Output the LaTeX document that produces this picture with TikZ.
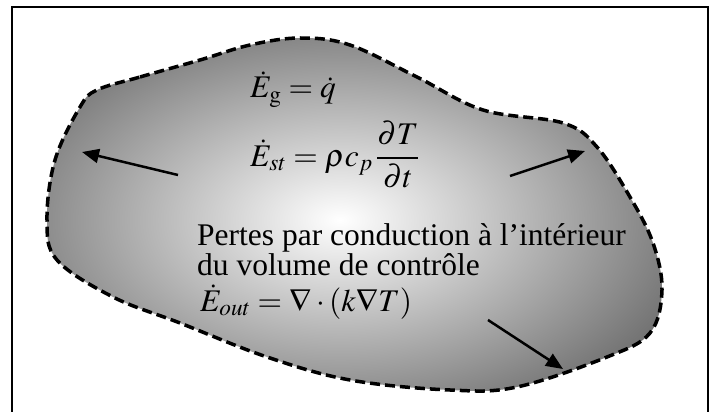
\documentclass[tikz,border=0pt]{standalone}
\usepackage{amsmath}
\usepackage{mathptmx}
\usepackage{fontspec}
\setmainfont{Liberation Serif}
\usetikzlibrary{arrows.meta}

\begin{document}
\begin{tikzpicture}[x=1pt, y=-1pt,
  frameline/.style={draw=black, line width=2pt},
  cvborder/.style={draw=black, line width=3.5pt, dash pattern=on 10pt off 5pt, line cap=butt},
  fluxarrow/.style={draw=black, line width=2.5pt, -{Triangle[length=17pt, width=14pt]}},
  eqtext/.style={anchor=base west, inner sep=0pt, font=\fontsize{31.5}{27}\selectfont}
]
  \useasboundingbox (0,0) rectangle (716,412);
  \path[frameline] (12,412) -- (12,7) -- (708,7) -- (708,412);

  % volume de controle
  \def\cvpath{plot[smooth cycle, tension=0.6] coordinates {(97,90) (140,77) (200,60) (250,45) (300,38) (350,45) (417,77) (483,110) (563,123) (597,147) (630,197) (653,243) (662,290) (650,333) (607,357) (517,387) (450,390) (350,380) (267,357) (180,323) (113,297) (57,260) (47,220) (55,160) (80,107)}}
  \begin{scope}
    \clip \cvpath;
    \shade[inner color=white, outer color=black!82] (340,220) ellipse (540 and 320);
  \end{scope}
  \path[cvborder] \cvpath;

  \node[eqtext] (eg) at (250,98) {$\dot{E}_{\mathrm{g}} = \dot{q}$};
  \node[eqtext] (est) at (250,166) {$\dot{E}_{st} = \rho c_p \,\dfrac{\partial T}{\partial t}$};
  \node[eqtext, align=left] (pertes) at (197,275) {Pertes par conduction à l'intérieur\\du volume de contrôle};
  \node[eqtext] (eout) at (200,311) {$\dot{E}_{out} = \nabla\cdot(k\nabla T)$};

  % flux sortants
  \coordinate (leftA) at (178,175);
  \coordinate (leftB) at (82,152);
  \coordinate (rightA) at (510,176);
  \coordinate (rightB) at (585,151);
  \coordinate (lowA) at (488,320);
  \coordinate (lowB) at (563,369);
  \draw[fluxarrow] (leftA) -- (leftB);
  \draw[fluxarrow] (rightA) -- (rightB);
  \draw[fluxarrow] (lowA) -- (lowB);
\end{tikzpicture}
\end{document}
